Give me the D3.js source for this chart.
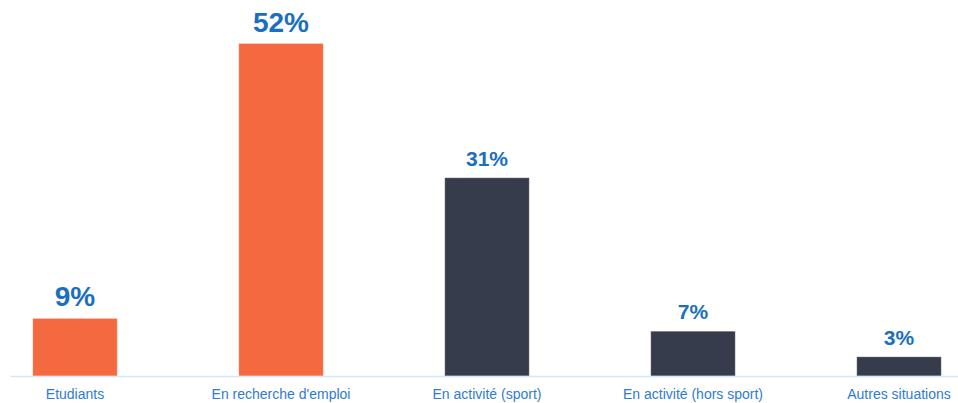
<!DOCTYPE html>
<html>
<head>
<meta charset="utf-8">
<script src="https://cdn.jsdelivr.net/npm/d3@7/dist/d3.min.js"></script>
<style>
  html, body { margin: 0; padding: 0; background: #ffffff; }
  svg { display: block; }
</style>
</head>
<body>
<svg id="chart" width="958" height="403"></svg>
<script>
// Situation des répondants (en %)
const categories = ["Etudiants", "En recherche d'emploi", "En activité (sport)", "En activité (hors sport)", "Autres situations"];
const values = [9, 52, 31, 7, 3];
const valueLabels = ["9%", "52%", "31%", "7%", "3%"];
const highlighted = [true, true, false, false, false];

const width = 958, height = 403;
const baseline = 376;

const svg = d3.select("#chart");

const x = d3.scaleBand()
  .domain(categories)
  .range([-28, 1002])
  .paddingInner(0.59)
  .paddingOuter(0.295);

const y = d3.scaleLinear()
  .domain([0, 52])
  .range([baseline, 43.5]);

// bars
svg.append("g")
  .selectAll("rect")
  .data(categories)
  .join("rect")
  .attr("x", d => x(d))
  .attr("width", x.bandwidth())
  .attr("y", (d, i) => y(values[i]))
  .attr("height", (d, i) => baseline - y(values[i]))
  .attr("fill", (d, i) => highlighted[i] ? "#f4693f" : "#363c4b")
  .attr("stroke", "#ffffff")
  .attr("stroke-opacity", 0.25)
  .attr("stroke-width", 1);

// baseline axis
const axis = d3.axisBottom(x).tickSize(0).tickPadding(13);
const gAxis = svg.append("g")
  .attr("transform", `translate(0,${baseline})`)
  .call(axis);
gAxis.select(".domain")
  .attr("d", `M10.5,0.5H958`)
  .attr("stroke", "#cfe9fb")
  .attr("stroke-width", 1.5);
gAxis.selectAll(".tick text")
  .attr("fill", "#2f7ccc")
  .attr("font-family", "Liberation Sans, Arial, sans-serif")
  .attr("font-size", 14)
  .attr("dy", "0.71em");

// value labels
svg.append("g")
  .selectAll("text")
  .data(categories)
  .join("text")
  .attr("x", d => x(d) + x.bandwidth() / 2)
  .attr("y", (d, i) => y(values[i]) - 12)
  .attr("text-anchor", "middle")
  .attr("fill", "#1b6fc1")
  .attr("font-family", "Liberation Sans, Arial, sans-serif")
  .attr("font-weight", "bold")
  .attr("font-size", (d, i) => highlighted[i] ? 28 : 21)
  .text((d, i) => valueLabels[i]);
</script>
</body>
</html>
